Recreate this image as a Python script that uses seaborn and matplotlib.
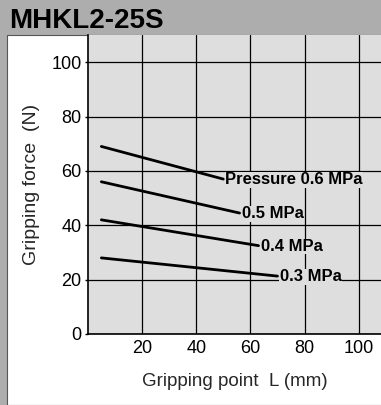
import pandas as pd
import matplotlib.pyplot as plt
import seaborn as sns
from matplotlib.patches import Rectangle

# Gripping force vs gripping point, one line per supply pressure
pressures = ['0.6', '0.5', '0.4', '0.3']
labels = ['Pressure 0.6 MPa', '0.5 MPa', '0.4 MPa', '0.3 MPa']
x_start = [5, 5, 5, 5]
x_end = [50, 56, 63, 70]
f_start = [69, 56, 42, 28]
f_end = [57, 44.5, 32.5, 21.3]

x_ticks = [20, 40, 60, 80, 100]
y_ticks = [0, 20, 40, 60, 80, 100]

rows = []
for p, x0, x1, y0, y1 in zip(pressures, x_start, x_end, f_start, f_end):
    rows.append({'pressure': p, 'L': x0, 'force': y0})
    rows.append({'pressure': p, 'L': x1, 'force': y1})
df = pd.DataFrame(rows)

sns.set_style('white')
plt.rcParams['font.family'] = ['Liberation Sans', 'DejaVu Sans']

W, H = 381, 405
fig = plt.figure(figsize=(W / 100, H / 100), dpi=100)
fig.patch.set_facecolor('#adadad')

# white panel under the title band
fig.patches.append(Rectangle((7 / W, 0), 1, (H - 35) / H, transform=fig.transFigure,
                             facecolor='white', edgecolor='#555555', linewidth=0.8, zorder=-5))
fig.text(9 / W, (H - 21.5) / H, 'MHKL2-25S', fontsize=20, fontweight='bold',
         ha='left', va='center', color='black')

ax = fig.add_axes([87.8 / W, (H - 334) / H, (W - 87.8) / W, (334 - 35) / H])
ax.set_facecolor('#dedede')

sns.lineplot(data=df, x='L', y='force', hue='pressure', palette=['black'] * 4,
             linewidth=2, legend=False, ax=ax)

for lab, x1, y1 in zip(labels, x_end, f_end):
    ax.annotate(lab, xy=(x1, y1), xytext=(1.5, -0.5), textcoords='offset points',
                ha='left', va='center', fontsize=12, fontweight='bold', color='black',
                bbox=dict(facecolor='#dedede', edgecolor='none', pad=0.2), zorder=5)

ax.set_xlim(0, 108.2)
ax.set_ylim(0, 110)
ax.set_xticks(x_ticks)
ax.set_yticks(y_ticks)
ax.grid(True, color='black', linewidth=0.9)
ax.set_axisbelow(True)
ax.tick_params(labelsize=13, colors='black')
ax.tick_params(axis='x', length=0, pad=4.5)
ax.tick_params(axis='y', length=2.5, width=1, direction='out', pad=2, left=True)

for side in ['top', 'right']:
    ax.spines[side].set_visible(False)
for side in ['left', 'bottom']:
    ax.spines[side].set_color('black')
    ax.spines[side].set_linewidth(1.2)

ax.set_xlabel('Gripping point  L (mm)', fontsize=13.5, labelpad=11)
ax.set_ylabel('Gripping force  (N)', fontsize=14, labelpad=8)

fig.savefig('out.png', dpi=100, facecolor=fig.get_facecolor())
